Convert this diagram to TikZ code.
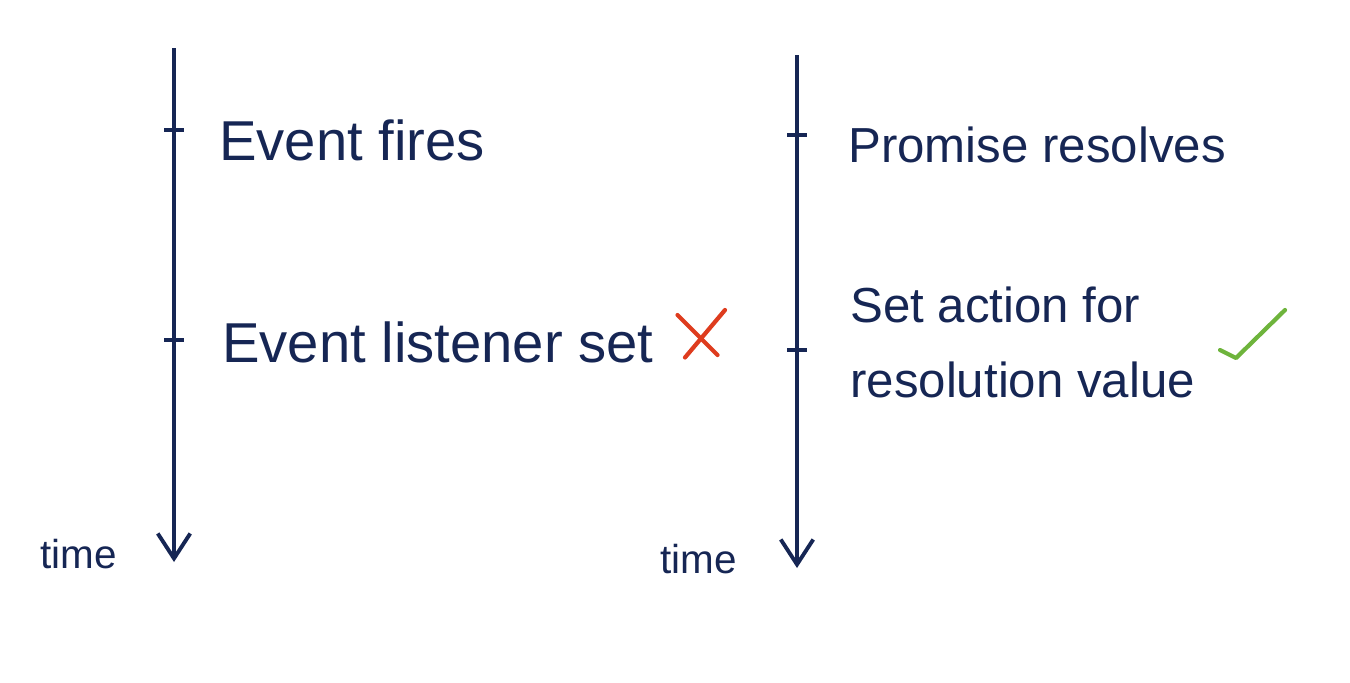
\documentclass[tikz,border=0pt]{standalone}
\usepackage{fontspec}
\setmainfont{Liberation Sans}
\usepackage{xcolor}
\usepackage{tikz}
\usetikzlibrary{arrows.meta, positioning}
\definecolor{inknavy}{RGB}{22,38,84}
\definecolor{inkred}{RGB}{222,60,30}
\definecolor{inkgreen}{RGB}{110,180,60}

\begin{document}
\begin{tikzpicture}[
    timeline/.style={draw=inknavy, line width=2.2pt, -{Straight Barb[length=5mm, width=6.5mm, line width=2.2pt]}},
    tick/.style={draw=inknavy, line width=2.2pt},
    label/.style={text=inknavy, anchor=base west, inner sep=0pt, font=\fontsize{32}{36}\selectfont},
    rlabel/.style={label, font=\fontsize{28}{33}\selectfont},
    timetext/.style={text=inknavy, anchor=base west, inner sep=0pt, font=\fontsize{23}{28}\selectfont}
]
\useasboundingbox (0,0) rectangle (27,-13.64);

% left timeline: events
\coordinate (evtop) at (3.48,-0.96);
\coordinate (evbot) at (3.48,-11.24);
\coordinate (evfire) at (3.48,-2.6);
\coordinate (evset) at (3.48,-6.8);
\draw[timeline] (evtop) -- (evbot);
\draw[tick] ([xshift=-2mm]evfire) -- ([xshift=2mm]evfire);
\draw[tick] ([xshift=-2mm]evset) -- ([xshift=2mm]evset);
\node[label] (fires) at (4.38,-3.2) {Event fires};
\node[label] (listener) at (4.44,-7.24) {Event listener set};
\node[timetext] (evtime) at (0.8,-11.36) {time};

% red cross
\coordinate (crossa) at (13.55,-6.3);
\coordinate (crossb) at (14.35,-7.1);
\coordinate (crossc) at (14.5,-6.2);
\coordinate (crossd) at (13.7,-7.15);
\draw[inkred, line width=2.4pt, line cap=round] (crossa) -- (crossb);
\draw[inkred, line width=2.4pt, line cap=round] (crossc) -- (crossd);

% right timeline: promises
\coordinate (prtop) at (15.94,-1.1);
\coordinate (prbot) at (15.94,-11.36);
\coordinate (prres) at (15.94,-2.7);
\coordinate (pract) at (15.94,-7.0);
\draw[timeline] (prtop) -- (prbot);
\draw[tick] ([xshift=-2mm]prres) -- ([xshift=2mm]prres);
\draw[tick] ([xshift=-2mm]pract) -- ([xshift=2mm]pract);
\node[rlabel] (resolves) at (16.96,-3.24) {Promise resolves};
\node[rlabel] (action) at (17.0,-6.44) {Set action for};
\node[rlabel] (value) at (17.0,-7.94) {resolution value};
\node[timetext] (prtime) at (13.2,-11.46) {time};

% green tick mark
\coordinate (checka) at (24.4,-7.0);
\coordinate (checkb) at (24.72,-7.16);
\coordinate (checkc) at (25.7,-6.2);
\draw[inkgreen, line width=2.4pt, line cap=round, line join=round] (checka) -- (checkb) -- (checkc);
\end{tikzpicture}
\end{document}
